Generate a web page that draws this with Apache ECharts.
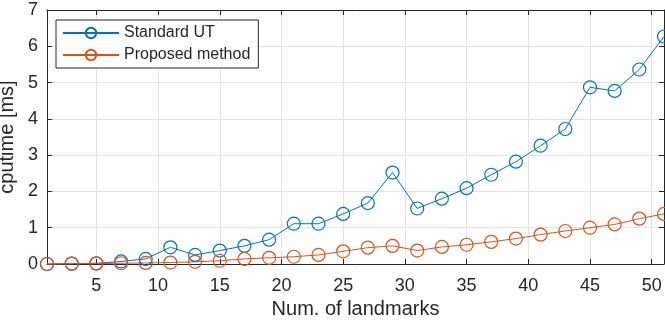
<!DOCTYPE html>
<html><head><meta charset="utf-8">
<script src="https://cdn.jsdelivr.net/npm/echarts@6/dist/echarts.min.js"></script>
<style>html,body{margin:0;padding:0;background:#fff}#c{width:665px;height:327px}</style>
</head><body><div id="c"></div>
<script>
var landmarks = [1,3,5,7,9,11,13,15,17,19,21,23,25,27,29,31,33,35,37,39,41,43,45,47,49,51];
var standardUT = [0.00,0.01,0.02,0.07,0.14,0.46,0.25,0.37,0.50,0.67,1.11,1.11,1.38,1.68,2.52,1.53,1.80,2.09,2.46,2.82,3.26,3.72,4.87,4.77,5.36,6.27];
var proposed = [0.00,0.01,0.01,0.02,0.03,0.04,0.06,0.09,0.14,0.17,0.20,0.25,0.35,0.45,0.50,0.37,0.47,0.53,0.61,0.70,0.81,0.91,1.00,1.09,1.25,1.38];
var xTicks = [5,10,15,20,25,30,35,40,45,50];
var yTicks = [0,1,2,3,4,5,6,7];
var seriesNames = ['Standard UT','Proposed method'];
var colors = ['#0072BD','#D95319'];

function pairs(ys){ return landmarks.map(function(x,i){ return [x, ys[i]]; }); }
var font = 'Liberation Sans, Arial, Helvetica, sans-serif';
var axisColor = '#262626';

var chart = echarts.init(document.getElementById('c'), null, {renderer:'canvas'});
function mkSeries(name, ys, col){
  return {
    name: name, type: 'line', data: pairs(ys),
    symbol: 'circle', symbolSize: 13, showSymbol: true,
    lineStyle: {color: col, width: 1},
    itemStyle: {color: 'rgba(0,0,0,0)', borderColor: col, borderWidth: 1.2},
    emphasis: {disabled: true}, animation: false, clip: false
  };
}
var xCommon = {
  type: 'value', min: 1, max: 51,
  axisLine: {show: true, onZero: false, lineStyle: {color: axisColor, width: 1}},
  axisTick: {show: true, inside: true, length: 5, customValues: xTicks, lineStyle: {color: axisColor}},
  splitLine: {show: false}
};
var yCommon = {
  type: 'value', min: 0, max: 7, interval: 1,
  axisLine: {show: true, onZero: false, lineStyle: {color: axisColor, width: 1}},
  axisTick: {show: true, inside: true, length: 5, lineStyle: {color: axisColor}},
  splitLine: {show: false}
};
chart.setOption({
  animation: false,
  grid: {left: 47, right: 1, top: 10, bottom: 63, containLabel: false, outerBoundsMode: 'none'},
  xAxis: [
    Object.assign({}, xCommon, {
      position: 'bottom',
      name: 'Num. of landmarks', nameLocation: 'middle', nameGap: 34,
      nameTextStyle: {fontFamily: font, fontSize: 20, color: axisColor},
      axisLabel: {show: true, customValues: xTicks, fontFamily: font, fontSize: 18, color: axisColor, margin: 13},
      splitLine: {show: true, customValues: xTicks, lineStyle: {color: '#e3e3e3', width: 1}}
    }),
    Object.assign({}, xCommon, {position: 'top', axisLabel: {show: false}})
  ],
  yAxis: [
    Object.assign({}, yCommon, {
      position: 'left',
      name: 'cputime [ms]', nameLocation: 'middle', nameGap: 18,
      nameTextStyle: {fontFamily: font, fontSize: 20, color: axisColor},
      axisLabel: {show: true, fontFamily: font, fontSize: 18, color: axisColor, margin: 9,
        formatter: function(v){ return yTicks.indexOf(v) >= 0 ? String(v) : ''; }},
      splitLine: {show: true, lineStyle: {color: '#e3e3e3', width: 1}}
    }),
    Object.assign({}, yCommon, {position: 'right', axisLabel: {show: false}})
  ],
  legend: {
    left: 56, top: 20, orient: 'vertical',
    backgroundColor: '#fff', borderColor: axisColor, borderWidth: 1,
    padding: [5, 8, 5, 6], itemGap: 6, itemWidth: 56, itemHeight: 13,
    textStyle: {fontFamily: font, fontSize: 16, color: axisColor, padding: [0,0,0,0]},
    data: seriesNames
  },
  series: [
    mkSeries(seriesNames[0], standardUT, colors[0]),
    mkSeries(seriesNames[1], proposed, colors[1])
  ]
});
</script></body></html>
